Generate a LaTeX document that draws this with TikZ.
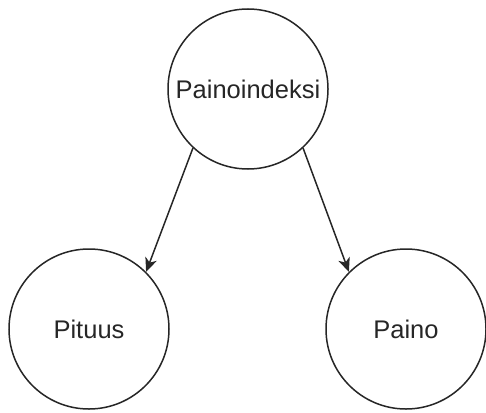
\documentclass[tikz,border=0pt]{standalone}
\usepackage{fontspec}
\setmainfont{Liberation Sans}
\usetikzlibrary{arrows.meta}
\begin{document}
\begin{tikzpicture}[x=1pt,y=-1pt,
  circ/.style={circle, draw=black!85, line width=1.5pt, minimum size=160pt, inner sep=0pt, font=\fontsize{25.5}{30}\selectfont, text=black!85},
  conn/.style={draw=black!85, line width=1.5pt, -{Stealth[length=14pt,width=12pt,inset=4pt]}}]
\useasboundingbox (0,0) rectangle (486,412);
\node[circ] (top) at (248,89) {Painoindeksi};
\node[circ] (left) at (89,329) {Pituus};
\node[circ] (right) at (406,329) {Paino};
\draw[conn] (top.227) -- (left.45);
\draw[conn] (top.313) -- (right.135);
\end{tikzpicture}
\end{document}
